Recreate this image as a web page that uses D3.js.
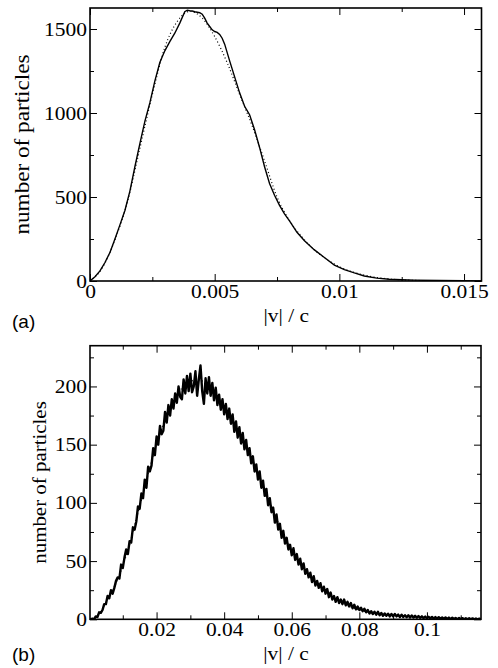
<!DOCTYPE html>
<html>
<head>
<meta charset="utf-8">
<script src="https://cdn.jsdelivr.net/npm/d3@7"></script>
<style>
  body { margin: 0; background: #fff; }
  svg { display: block; }
</style>
</head>
<body>
<svg id="chart" width="498" height="668"></svg>
<script>
// ---- panel (a): measured histogram and fit ----
const vA = [0, 0.0002, 0.0004, 0.0006, 0.0008, 0.001, 0.0012, 0.0014, 0.0016, 0.0018, 0.002, 0.0022, 0.0024, 0.0026, 0.0028, 0.003, 0.0032, 0.0034, 0.0036, 0.0038,
  0.0039, 0.004, 0.0041, 0.0042, 0.0043, 0.0044, 0.0045, 0.0046, 0.0047, 0.0048, 0.0049, 0.005, 0.0051, 0.0052, 0.0053, 0.0054,
  0.0056, 0.0058, 0.006, 0.0062, 0.0064, 0.0066, 0.0068, 0.007, 0.0072, 0.0074, 0.0076, 0.0078, 0.008,
  0.0083, 0.0086, 0.009, 0.0094, 0.0098, 0.0102, 0.0106, 0.011, 0.0115, 0.012, 0.0125, 0.013, 0.014, 0.015, 0.0157];
const nA = [0, 25, 60, 110, 170, 250, 334, 420, 535, 680, 818, 950, 1060, 1190, 1300, 1370, 1425, 1475, 1535, 1603,
  1612, 1609, 1607, 1603, 1600, 1597, 1588, 1565, 1535, 1515, 1495, 1485, 1480, 1468, 1445, 1410,
  1310, 1215, 1120, 1040, 990, 900, 795, 680, 580, 510, 450, 400, 358,
  290, 240, 185, 140, 95, 68, 48, 30, 17, 10, 7, 5, 3, 2, 1];
const vFitA = [0, 0.0005, 0.001, 0.0015, 0.002, 0.0025, 0.003, 0.0035, 0.004, 0.0045, 0.005, 0.0055, 0.006, 0.0065, 0.007, 0.0075, 0.008, 0.0085, 0.009, 0.0095, 0.01, 0.011, 0.012, 0.013, 0.014, 0.0157];
const nFitA = [0, 80, 245, 470, 790, 1110, 1390, 1545, 1605, 1565, 1455, 1300, 1110, 925, 715, 500, 360, 262, 185, 128, 85, 35, 12, 4, 1.5, 0];

const xTicksA = [0, 0.005, 0.01, 0.015];
const xLabelsA = ['0', '0.005', '0.01', '0.015'];
const xMinorA = [0.0025, 0.0075, 0.0125];
const yTicksA = [0, 500, 1000, 1500];
const yMinorA = [250, 750, 1250];

// ---- panel (b): noisy histogram, bins of 0.0005, and fit ----
const binStepB = 0.0005;
const nB = [
  0, 0, 0.5, 0, 2.5, 2, 6, 5.5, 8, 13,
  13, 20, 18, 25, 22, 27, 33, 36, 35, 47,
  44, 53, 60, 56, 67, 66, 79, 77, 84, 97,
  95, 108, 104, 120, 113, 131, 127, 132, 147, 141,
  157, 150, 166, 159, 162, 178, 169, 184, 175, 189,
  181, 194, 186, 200, 191, 189, 206, 194, 209, 196,
  211, 195, 200, 213, 192, 206, 218, 196, 185, 207,
  194, 208, 192, 203, 188, 199, 184, 193, 180, 189,
  176, 185, 172, 181, 168, 176, 161, 170, 156, 165,
  151, 160, 146, 154, 141, 147, 134, 140, 127, 133,
  120, 127, 113, 119, 106, 112, 98, 104, 92, 96,
  83, 90, 77, 82, 70, 76, 65, 70, 60, 64,
  55, 61, 51, 56, 47, 52, 43, 48, 39, 43,
  36, 40, 32, 37, 29, 33, 27, 31, 24, 28,
  22, 26, 19, 23, 17, 20, 15, 19, 14, 17,
  13, 17, 12, 15, 11, 14, 9.5, 12.5, 8.5, 11,
  8, 10, 7, 9, 6, 8, 5, 7, 4.5, 6.5,
  4, 6.5, 3.5, 5.5, 3, 5, 3, 4.8, 2.5, 4.5,
  2.5, 4.5, 2.5, 4, 2, 4, 2, 3.5, 1.8, 3.4,
  1.5, 3.3, 1.5, 3, 1.3, 2.8, 1.2, 2.5, 1, 2.4,
  0.8, 2.2, 0.8, 2, 0.6, 1.9, 0.5, 1.8, 0.5, 1.6,
  0.3, 1.6, 0.3, 1.5, 0.2, 1.3, 0.2, 1.2, 0.1, 1.1,
  0.1, 1, 0.1, 0.9, 0, 0.9, 0, 0.8, 0, 0.7, 0, 0.6, 0];
const vFitB = [0, 0.002, 0.004, 0.006, 0.008, 0.01, 0.012, 0.014, 0.016, 0.018, 0.02, 0.022, 0.024, 0.026, 0.028, 0.03, 0.032, 0.034, 0.036, 0.038,
  0.04, 0.042, 0.044, 0.046, 0.048, 0.05, 0.052, 0.054, 0.056, 0.058, 0.06, 0.063, 0.066, 0.07, 0.074, 0.078, 0.082, 0.086, 0.09, 0.095, 0.1, 0.108, 0.116];
const nFitB = [0, 2, 9, 20, 31, 46, 64, 86, 108, 130, 151, 168, 182, 193, 200, 204, 206, 204, 199, 192,
  183, 173, 162, 151, 139, 126, 112, 97, 83, 70, 59, 46, 35, 24, 16, 10, 6.5, 4.5, 3.4, 2.2, 1.4, 0.7, 0.3];

const xTicksB = [0.02, 0.04, 0.06, 0.08, 0.1];
const xLabelsB = ['0.02', '0.04', '0.06', '0.08', '0.1'];
const xMinorB = [0.01, 0.03, 0.05, 0.07, 0.09, 0.11];
const yTicksB = [0, 50, 100, 150, 200];
const yMinorB = [25, 75, 125, 175, 225];

const svg = d3.select('#chart');
const serif = '"Liberation Serif", "Times New Roman", serif';
const stretchK = 1.13;

// widen serif glyphs a little, the original lettering is broader than Times
function stretch(sel, k) {
  sel.each(function () {
    const w = this.getComputedTextLength();
    d3.select(this).attr('textLength', w * k).attr('lengthAdjust', 'spacingAndGlyphs');
  });
}

function panel(id, cfg) {
  const { x, y } = cfg;
  const [x0, x1] = x.range();
  const [yb, yt] = y.range();
  const g = svg.append('g').attr('id', id);

  g.append('clipPath').attr('id', id + '_clip')
    .append('rect').attr('x', x0).attr('y', yt).attr('width', x1 - x0).attr('height', yb - yt);

  const plot = g.append('g').attr('clip-path', `url(#${id}_clip)`);
  cfg.draw(plot);

  // ticks: major + minor on all four sides, pointing inward
  const axes = [
    [d3.axisBottom(x).tickValues(cfg.xTicks).tickFormat((d, i) => cfg.xLabels[i]), `translate(0,${yb})`, true],
    [d3.axisBottom(x).tickValues(cfg.xMinor).tickFormat(''), `translate(0,${yb})`, false],
    [d3.axisTop(x).tickValues(cfg.xTicks).tickFormat(''), `translate(0,${yt})`, true],
    [d3.axisTop(x).tickValues(cfg.xMinor).tickFormat(''), `translate(0,${yt})`, false],
    [d3.axisLeft(y).tickValues(cfg.yTicks).tickFormat(d3.format('d')), `translate(${x0},0)`, true],
    [d3.axisLeft(y).tickValues(cfg.yMinor).tickFormat(''), `translate(${x0},0)`, false],
    [d3.axisRight(y).tickValues(cfg.yTicks).tickFormat(''), `translate(${x1},0)`, true],
    [d3.axisRight(y).tickValues(cfg.yMinor).tickFormat(''), `translate(${x1},0)`, false]
  ];
  axes.forEach(([ax, tr, major]) => {
    ax.tickSize(major ? -7 : -4).tickSizeOuter(0).tickPadding(major ? 3 : 0);
    const a = g.append('g').attr('transform', tr).call(ax);
    a.select('.domain').remove();
    a.selectAll('line').attr('stroke', '#000').attr('stroke-width', 1);
    a.attr('font-family', serif).attr('font-size', 19);
    a.selectAll('text').attr('fill', '#000');
  });
  stretch(g.selectAll('.tick text').filter(function () { return this.textContent !== ''; }), stretchK);

  g.append('rect')
    .attr('x', x0).attr('y', yt).attr('width', x1 - x0).attr('height', yb - yt)
    .attr('fill', 'none').attr('stroke', '#000').attr('stroke-width', 1.6);

  const yl = g.append('text')
    .attr('transform', `translate(${cfg.yLabelX},${(yb + yt) / 2}) rotate(-90)`)
    .attr('text-anchor', 'middle')
    .attr('font-family', serif).attr('font-size', cfg.yLabelSize)
    .text('number of particles');
  stretch(yl, stretchK);

  const xl = g.append('text')
    .attr('x', (x0 + x1) / 2 + 0.5).attr('y', yb + 41)
    .attr('text-anchor', 'middle')
    .attr('font-family', serif).attr('font-size', 19)
    .text('|v| / c');
  stretch(xl, stretchK);

  g.append('text')
    .attr('x', 12).attr('y', yb + cfg.tagDy)
    .attr('font-family', '"Liberation Sans", Arial, sans-serif').attr('font-size', 19)
    .text(cfg.tag);
}

// (a)
const xA = d3.scaleLinear().domain([0, 0.0157]).range([90, 481.5]);
const yA = d3.scaleLinear().domain([0, 1625]).range([281, 8]);
panel('pa', {
  x: xA, y: yA,
  xTicks: xTicksA, xLabels: xLabelsA, xMinor: xMinorA,
  yTicks: yTicksA, yMinor: yMinorA,
  yLabelX: 29, yLabelSize: 20.5, tag: '(a)', tagDy: 47,
  draw: p => {
    p.append('path')
      .datum(vFitA.map((v, i) => [v, nFitA[i]]))
      .attr('fill', 'none').attr('stroke', '#000').attr('stroke-width', 1.2)
      .attr('stroke-dasharray', '1,2.5')
      .attr('d', d3.line().x(d => xA(d[0])).y(d => yA(d[1])).curve(d3.curveMonotoneX));
    p.append('path')
      .datum(vA.map((v, i) => [v, nA[i]]))
      .attr('fill', 'none').attr('stroke', '#000').attr('stroke-width', 1.4)
      .attr('d', d3.line().x(d => xA(d[0])).y(d => yA(d[1])));
  }
});

// (b)
const xB = d3.scaleLinear().domain([0.0003, 0.116]).range([90, 481]);
const yB = d3.scaleLinear().domain([0, 235]).range([619.3, 345.7]);
panel('pb', {
  x: xB, y: yB,
  xTicks: xTicksB, xLabels: xLabelsB, xMinor: xMinorB,
  yTicks: yTicksB, yMinor: yMinorB,
  yLabelX: 46, yLabelSize: 18.5, tag: '(b)', tagDy: 42,
  draw: p => {
    p.append('path')
      .datum(vFitB.map((v, i) => [v, nFitB[i]]))
      .attr('fill', 'none').attr('stroke', '#000').attr('stroke-width', 1.2)
      .attr('stroke-dasharray', '1,2.5')
      .attr('d', d3.line().x(d => xB(d[0])).y(d => yB(d[1])).curve(d3.curveMonotoneX));
    p.append('path')
      .datum(nB.map((n, i) => [i * binStepB, n]))
      .attr('fill', 'none').attr('stroke', '#000').attr('stroke-width', 2.4)
      .attr('stroke-linejoin', 'round')
      .attr('d', d3.line().x(d => xB(d[0])).y(d => yB(d[1])));
  }
});
</script>
</body>
</html>
